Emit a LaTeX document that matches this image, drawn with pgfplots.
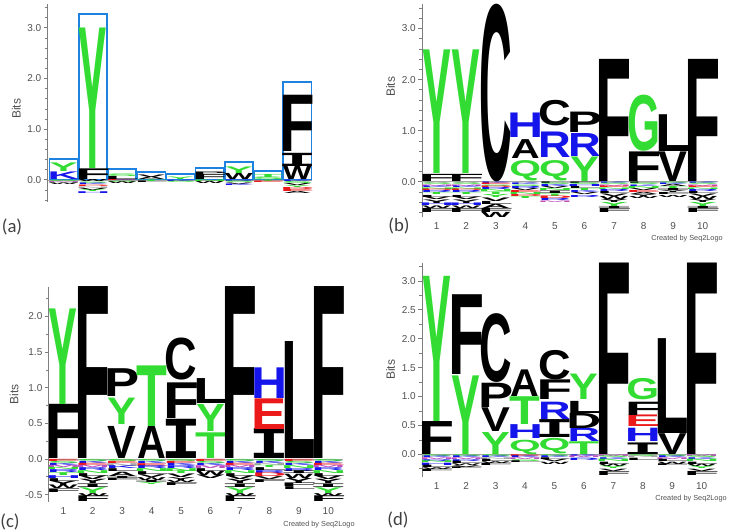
\documentclass[border=0pt]{standalone}
\usepackage{fontspec}
\setmainfont{Liberation Sans}
\newfontfamily\capfont{Carlito}
\newfontfamily\serifI{DejaVu Sans Mono}
\usepackage{graphicx}
\usepackage{pgfplots}
\usepackage{pgfplotstable}
\pgfplotsset{compat=1.18}

\definecolor{logoG}{RGB}{50,220,50}
\definecolor{logoB}{RGB}{20,20,235}
\definecolor{logoR}{RGB}{235,25,25}
\definecolor{logoK}{RGB}{0,0,0}
\definecolor{logoM}{RGB}{190,80,190}
\definecolor{logoS}{RGB}{165,165,165}
\definecolor{boxblue}{RGB}{30,130,225}
\definecolor{axgray}{RGB}{125,125,125}
\definecolor{txtgray}{RGB}{80,80,80}

% stretch factors (advance width / ink width)
\def\lfA{1.0}\def\lfC{1.13}\def\lfD{1.2}\def\lfE{1.22}\def\lfF{1.25}\def\lfG{1.14}
\def\lfH{1.25}\def\lfI{1.45}\def\lfK{1.12}\def\lfL{1.2}\def\lfM{1.2}\def\lfN{1.25}
\def\lfP{1.22}\def\lfQ{1.1}\def\lfR{1.13}\def\lfS{1.13}\def\lfT{1.07}\def\lfV{1.0}
\def\lfW{1.0}\def\lfY{1.0}
\def\lgI{I}
\newdimen\logoH \newdimen\logoW
\def\logoparse#1#2\relax{\def\logoC{#1}\def\logoL{#2}}
\newcommand\logodraw[2]{% #1 pt per bit, #2 nominal width (pt)
  \edef\logoM{\pgfplotspointmeta}%
  \expandafter\logoparse\logoM\relax
  \ifx\logoL\lgI\def\logoT{{\serifI\bfseries I}}\else\def\logoT{{\bfseries\logoL}}\fi
  \ifcsname lf\logoL\endcsname\edef\logoF{\csname lf\logoL\endcsname}\else\def\logoF{1}\fi
  \pgfmathsetlength\logoH{\lh*#1pt}%
  \pgfmathsetlength\logoW{\logoF*#2pt}%
  \node[anchor=south, inner sep=0pt, outer sep=0pt] at (0pt,0pt)
    {\color{logo\logoC}\resizebox*{\logoW}{\logoH}{\logoT}};%
}

\pgfplotsset{
  logo/.style 2 args={%
    scatter, only marks, mark=*, mark size=0pt,
    mark options={draw=none, fill=none},
    point meta=explicit symbolic,
    visualization depends on={\thisrow{h}\as\lh},
    scatter/@pre marker code/.code={\logodraw{#2}{#1}},
    scatter/@post marker code/.code={},
  },
  logoaxis/.style={
    scale only axis, anchor=south west, clip=false,
    axis y line*=left, axis x line*=bottom,
    x axis line style={draw=none},
    y axis line style={axgray, line width=0.6pt, -},
    xtick style={draw=none},
    ytick style={axgray, line width=0.6pt},
    minor y tick style={axgray, line width=0.5pt},
    tick align=outside, major tick length=3pt, minor tick length=2pt,
    tick label style={font=\fontsize{7.5}{9}\selectfont, text=txtgray, /pgf/number format/assume math mode=true},
    yticklabel style={inner sep=1.5pt},
    y tick label style={/pgf/number format/fixed, /pgf/number format/fixed zerofill, /pgf/number format/precision=1},
    xticklabel style={inner sep=1pt},
    ylabel={Bits},
    ylabel style={font=\fontsize{9}{10}\selectfont, text=txtgray},
  },
}

% data: x, bottom, height (bits), colour class + letter
\pgfplotstableread{
x y h cl
1 0.00 0.15 BK
1 0.16 0.17 GY
2 0.00 0.21 KF
2 0.23 2.77 GY
3 0.00 0.06 KL
3 0.07 0.05 GS
4 0.00 0.05 KA
4 0.05 0.05 KV
5 0.00 0.05 GY
6 0.00 0.10 KF
6 0.10 0.05 KP
7 0.00 0.12 KW
7 0.12 0.13 GY
8 0.00 0.05 GS
8 0.05 0.06 GT
9 0.00 0.26 KW
9 0.27 0.26 KI
9 0.56 1.11 KF
1 -0.025 0.025 GS
1 -0.045 0.02 MM
1 -0.07 0.025 SN
1 -0.10 0.03 KW
2 -0.04 0.04 KW
2 -0.07 0.03 GS
2 -0.10 0.03 BK
2 -0.13 0.03 RD
2 -0.16 0.03 SN
2 -0.20 0.04 KV
2 -0.235 0.035 GY
2 -0.27 0.035 BH
3 -0.02 0.02 RE
3 -0.045 0.025 GS
3 -0.08 0.035 KW
4 -0.03 0.03 GT
4 -0.06 0.03 KL
5 -0.025 0.025 BK
5 -0.05 0.025 GS
6 -0.03 0.03 GN
6 -0.07 0.04 KW
7 -0.03 0.03 BR
7 -0.06 0.03 GS
7 -0.09 0.03 KV
7 -0.12 0.03 BK
8 -0.03 0.03 GT
8 -0.06 0.03 RE
9 -0.03 0.03 BK
9 -0.07 0.04 GS
9 -0.11 0.04 KV
9 -0.15 0.04 GY
9 -0.19 0.04 RD
9 -0.23 0.04 RE
9 -0.27 0.04 KA
}\tabA

\pgfplotstableread{
x y h cl
1 0.00 0.14 KF
1 0.16 2.42 GY
2 0.00 0.14 KF
2 0.16 2.42 GY
3 0.00 3.48 KC
4 0.02 0.40 GQ
4 0.45 0.37 KA
4 0.86 0.48 BH
5 0.02 0.40 GQ
5 0.48 0.50 BR
5 1.10 0.50 KC
6 0.00 0.48 GY
6 0.50 0.45 BR
6 0.97 0.40 KP
7 0.00 2.39 KF
8 0.00 0.58 KF
8 0.60 1.10 GG
9 0.00 0.58 KV
9 0.60 0.72 KL
10 0.00 2.39 KF
1 -0.03 0.03 SA
1 -0.06 0.03 GS
1 -0.09 0.03 MM
1 -0.12 0.03 BK
1 -0.15 0.03 GN
1 -0.18 0.03 RD
1 -0.22 0.04 BR
1 -0.26 0.04 GT
1 -0.30 0.04 KL
1 -0.35 0.05 KV
1 -0.42 0.07 KY
1 -0.47 0.05 BH
1 -0.52 0.05 KW
1 -0.60 0.08 KF
2 -0.03 0.03 SA
2 -0.06 0.03 GS
2 -0.09 0.03 MM
2 -0.12 0.03 BK
2 -0.15 0.03 GN
2 -0.18 0.03 RD
2 -0.22 0.04 BR
2 -0.26 0.04 GT
2 -0.30 0.04 KL
2 -0.35 0.05 KV
2 -0.42 0.07 KY
2 -0.47 0.05 BH
2 -0.52 0.05 KW
2 -0.60 0.08 KF
3 -0.03 0.03 BK
3 -0.06 0.03 RE
3 -0.09 0.03 GS
3 -0.12 0.03 RD
3 -0.16 0.04 BR
3 -0.20 0.04 GN
3 -0.25 0.05 GT
3 -0.31 0.06 GY
3 -0.38 0.07 KV
3 -0.44 0.06 KL
3 -0.52 0.08 KA
3 -0.60 0.08 KF
3 -0.70 0.10 KW
4 -0.03 0.03 SA
4 -0.06 0.03 BK
4 -0.09 0.03 GS
4 -0.13 0.04 BR
4 -0.17 0.04 KV
4 -0.21 0.04 RE
4 -0.25 0.04 GN
4 -0.29 0.04 RD
4 -0.33 0.04 GT
5 -0.03 0.03 KL
5 -0.06 0.03 GS
5 -0.10 0.04 BK
5 -0.14 0.04 KV
5 -0.18 0.04 GN
5 -0.23 0.05 KI
5 -0.28 0.05 GT
5 -0.33 0.05 RD
5 -0.37 0.04 BR
5 -0.40 0.03 MM
6 -0.03 0.03 KF
6 -0.06 0.03 GS
6 -0.10 0.04 BH
6 -0.14 0.04 KL
6 -0.18 0.04 GT
6 -0.22 0.04 BK
6 -0.26 0.04 KV
6 -0.30 0.04 BR
7 -0.03 0.03 BK
7 -0.06 0.03 GS
7 -0.09 0.03 MM
7 -0.12 0.03 RE
7 -0.15 0.03 GN
7 -0.19 0.04 BR
7 -0.23 0.04 KL
7 -0.28 0.05 KV
7 -0.34 0.06 KW
7 -0.40 0.06 KY
7 -0.48 0.08 GY
7 -0.52 0.04 KI
7 -0.60 0.08 KF
8 -0.03 0.03 KL
8 -0.06 0.03 GS
8 -0.09 0.03 BK
8 -0.13 0.04 GN
8 -0.17 0.04 KV
8 -0.21 0.04 RE
8 -0.25 0.04 KA
8 -0.29 0.04 KY
8 -0.33 0.04 KW
9 -0.03 0.03 GS
9 -0.06 0.03 BK
9 -0.10 0.04 KA
9 -0.14 0.04 GT
9 -0.18 0.04 KI
9 -0.22 0.04 KY
9 -0.26 0.04 KF
9 -0.30 0.04 KW
10 -0.03 0.03 BK
10 -0.06 0.03 GS
10 -0.09 0.03 MM
10 -0.12 0.03 RE
10 -0.15 0.03 GN
10 -0.19 0.04 BR
10 -0.23 0.04 KL
10 -0.28 0.05 KV
10 -0.34 0.06 KW
10 -0.40 0.06 KY
10 -0.48 0.08 GY
10 -0.52 0.04 KI
10 -0.60 0.08 KF
}\tabB

\pgfplotstableread{
x y h cl
1 0.00 0.76 KF
1 0.76 1.34 GY
2 0.00 2.41 KF
3 0.00 0.45 KV
3 0.48 0.37 GY
3 0.87 0.39 KP
4 0.00 0.45 KA
4 0.45 0.85 GT
5 0.00 0.55 KI
5 0.57 0.50 KF
5 1.10 0.59 KC
6 0.00 0.36 GT
6 0.38 0.38 GY
6 0.78 0.35 KL
7 0.00 2.41 KF
8 0.00 0.42 KI
8 0.42 0.43 RE
8 0.85 0.43 BH
9 0.00 1.64 KL
10 0.00 2.41 KF
1 -0.03 0.03 RE
1 -0.06 0.03 GS
1 -0.09 0.03 BK
1 -0.12 0.03 MM
1 -0.15 0.03 GN
1 -0.19 0.04 BR
1 -0.23 0.04 GT
1 -0.27 0.04 BH
1 -0.31 0.04 KL
1 -0.37 0.06 KY
1 -0.42 0.05 KW
1 -0.47 0.05 KF
2 -0.03 0.03 GS
2 -0.06 0.03 BK
2 -0.09 0.03 RE
2 -0.12 0.03 MM
2 -0.16 0.04 BR
2 -0.20 0.04 GN
2 -0.24 0.04 KL
2 -0.29 0.05 KV
2 -0.35 0.06 KY
2 -0.40 0.05 KI
2 -0.48 0.08 GY
2 -0.52 0.04 KW
2 -0.60 0.08 KF
3 -0.03 0.03 GS
3 -0.06 0.03 RE
3 -0.10 0.04 SN
3 -0.14 0.04 BK
3 -0.18 0.04 KL
3 -0.24 0.06 KA
3 -0.27 0.03 KI
3 -0.30 0.03 KF
4 -0.03 0.03 GS
4 -0.06 0.03 BK
4 -0.10 0.04 RE
4 -0.14 0.04 BR
4 -0.18 0.04 GN
4 -0.22 0.04 KL
4 -0.26 0.04 KV
4 -0.30 0.04 KW
4 -0.33 0.03 KI
4 -0.36 0.03 GY
5 -0.03 0.03 GS
5 -0.06 0.03 RE
5 -0.09 0.03 BK
5 -0.13 0.04 BR
5 -0.17 0.04 GN
5 -0.21 0.04 GT
5 -0.26 0.05 KV
5 -0.30 0.04 KY
5 -0.33 0.03 KW
5 -0.37 0.04 KF
6 -0.03 0.03 RE
6 -0.06 0.03 GS
6 -0.09 0.03 BK
6 -0.13 0.04 MM
6 -0.17 0.04 KL
6 -0.23 0.06 KW
6 -0.28 0.05 KV
7 -0.03 0.03 GS
7 -0.06 0.03 BK
7 -0.09 0.03 RE
7 -0.12 0.03 MM
7 -0.16 0.04 BR
7 -0.20 0.04 GN
7 -0.24 0.04 KL
7 -0.29 0.05 KV
7 -0.35 0.06 KY
7 -0.40 0.05 KI
7 -0.48 0.08 GY
7 -0.52 0.04 KW
7 -0.60 0.08 KF
8 -0.03 0.03 GS
8 -0.06 0.03 BK
8 -0.09 0.03 SN
8 -0.12 0.03 GT
8 -0.16 0.04 KL
8 -0.20 0.04 BR
8 -0.25 0.05 RD
8 -0.29 0.04 KV
8 -0.33 0.04 KF
9 -0.03 0.03 RE
9 -0.06 0.03 GS
9 -0.09 0.03 BK
9 -0.13 0.04 GN
9 -0.17 0.04 BR
9 -0.21 0.04 KI
9 -0.27 0.06 KW
9 -0.34 0.07 KY
9 -0.39 0.05 KF
9 -0.43 0.04 KL
10 -0.03 0.03 GS
10 -0.06 0.03 BK
10 -0.09 0.03 RE
10 -0.12 0.03 MM
10 -0.16 0.04 BR
10 -0.20 0.04 GN
10 -0.24 0.04 KL
10 -0.29 0.05 KV
10 -0.35 0.06 KY
10 -0.40 0.05 KI
10 -0.48 0.08 GY
10 -0.52 0.04 KW
10 -0.60 0.08 KF
}\tabC

\pgfplotstableread{
x y h cl
1 0.00 0.57 KF
1 0.57 2.51 GY
2 0.00 1.36 GY
2 1.38 1.38 KF
3 0.00 0.38 GY
3 0.40 0.41 KV
3 0.81 0.42 KP
3 1.25 1.19 KC
4 0.00 0.25 GQ
4 0.27 0.24 BH
4 0.52 0.48 GT
4 1.00 0.46 KA
5 0.00 0.27 GQ
5 0.29 0.31 KI
5 0.61 0.30 BR
5 0.95 0.34 KF
5 1.29 0.51 KC
6 0.00 0.22 GT
6 0.22 0.23 BR
6 0.45 0.26 KD
6 0.71 0.21 KL
6 0.94 0.44 GY
7 0.00 3.31 KF
8 0.00 0.20 KI
8 0.22 0.23 BH
8 0.48 0.20 RE
8 0.68 0.23 KF
8 0.94 0.37 GG
9 0.00 0.36 KV
9 0.36 1.64 KL
10 0.00 3.31 KF
1 -0.03 0.03 GS
1 -0.06 0.03 BK
1 -0.09 0.03 MM
1 -0.12 0.03 BR
1 -0.15 0.03 GN
1 -0.19 0.04 BH
1 -0.23 0.04 KL
1 -0.26 0.03 KW
1 -0.30 0.04 KF
2 -0.03 0.03 GS
2 -0.06 0.03 BK
2 -0.09 0.03 MM
2 -0.12 0.03 BR
2 -0.16 0.04 KL
2 -0.19 0.03 KW
2 -0.22 0.03 KV
2 -0.25 0.03 KF
3 -0.03 0.03 GS
3 -0.06 0.03 BK
3 -0.09 0.03 SN
3 -0.13 0.04 KL
3 -0.16 0.03 KW
3 -0.20 0.04 KF
4 -0.03 0.03 RE
4 -0.06 0.03 BK
4 -0.09 0.03 MM
4 -0.12 0.03 GS
4 -0.15 0.03 KL
5 -0.03 0.03 GS
5 -0.06 0.03 BK
5 -0.09 0.03 KL
5 -0.13 0.04 KV
5 -0.17 0.04 KW
6 -0.03 0.03 BK
6 -0.06 0.03 MM
6 -0.10 0.04 BR
7 -0.03 0.03 MM
7 -0.06 0.03 GS
7 -0.09 0.03 BK
7 -0.13 0.04 GN
7 -0.17 0.04 KL
7 -0.21 0.04 KW
7 -0.25 0.04 GY
7 -0.29 0.04 KV
7 -0.36 0.07 KF
8 -0.03 0.03 GS
8 -0.06 0.03 SN
8 -0.10 0.04 KL
9 -0.03 0.03 GS
9 -0.06 0.03 BK
9 -0.09 0.03 MM
9 -0.13 0.04 KL
9 -0.17 0.04 KW
9 -0.20 0.03 KF
10 -0.03 0.03 MM
10 -0.06 0.03 GS
10 -0.09 0.03 BK
10 -0.13 0.04 GN
10 -0.17 0.04 KL
10 -0.21 0.04 KW
10 -0.25 0.04 GY
10 -0.29 0.04 KV
10 -0.36 0.07 KF
}\tabD

\begin{document}
\begin{tikzpicture}
\path[use as bounding box] (0,0) rectangle (546.75pt,399pt);

% ---------------- (a) ----------------
\begin{axis}[logoaxis,
  at={(35.66pt,247.73pt)}, width=198.2pt, height=148.28pt,
  xmin=0.45, xmax=9.5, ymin=-0.43, ymax=3.47,
  xtick=\empty,
  ytick={0,1,2,3},
  minor ytick={-0.4,-0.2,0.2,0.4,0.6,0.8,1.2,1.4,1.6,1.8,2.2,2.4,2.6,2.8,3.2,3.4},
  ylabel style={at={(ticklabel cs:0.47)}},
]
\addplot[ybar, bar width=0.97, draw=boxblue, line width=1.3pt, fill=none]
  coordinates {(1,0.41) (2,3.27) (3,0.22) (4,0.15) (5,0.12) (6,0.23) (7,0.36) (8,0.18) (9,1.93)};
\addplot[logo={21.3}{38.02}] table[x=x, y=y, meta=cl] {\tabA};
\addplot[logoS, line width=0.5pt] coordinates {(0.45,0) (9.5,0)};
\end{axis}

% ---------------- (b) ----------------
\begin{axis}[logoaxis,
  at={(316.44pt,236.48pt)}, width=221.7pt, height=159.53pt,
  xmin=0.5, xmax=10.5, ymin=-0.685, ymax=3.48,
  xtick={1,...,10},
  ytick={0,1,2,3},
  minor ytick={-0.6,-0.4,-0.2,0.2,0.4,0.6,0.8,1.2,1.4,1.6,1.8,2.2,2.4,2.6,2.8,3.2,3.4},
  ylabel style={at={(ticklabel cs:0.61)}},
]
\addplot[logo={21.7}{38.30}] table[x=x, y=y, meta=cl] {\tabB};
\addplot[logoS, line width=0.5pt] coordinates {(0.5,0) (10.5,0)};
\end{axis}

% ---------------- (c) ----------------
\begin{axis}[logoaxis,
  at={(36.44pt,22.73pt)}, width=220.8pt, height=160.8pt,
  xmin=0.5, xmax=10.5, ymin=-0.599, ymax=2.408,
  xtick={1,...,10},
  ytick={-0.5,0,0.5,1,1.5,2},
  minor ytick={-0.25,0.25,0.75,1.25,1.75,2.25},
  ylabel style={at={(ticklabel cs:0.5)}},
]
\addplot[logo={21.6}{53.48}] table[x=x, y=y, meta=cl] {\tabC};
\addplot[logoS, line width=0.5pt] coordinates {(0.5,0) (10.5,0)};
\end{axis}

% ---------------- (d) ----------------
\begin{axis}[logoaxis,
  at={(316.49pt,41.48pt)}, width=220.8pt, height=160.5pt,
  xmin=0.5, xmax=10.5, ymin=-0.387, ymax=3.315,
  xtick={1,...,10},
  ytick={0,0.5,1,1.5,2,2.5,3},
  minor ytick={-0.25,0.25,0.75,1.25,1.75,2.25,2.75,3.25},
  ylabel style={at={(ticklabel cs:0.5)}},
]
\addplot[logo={21.6}{43.36}] table[x=x, y=y, meta=cl] {\tabD};
\addplot[logoS, line width=0.5pt] coordinates {(0.5,0) (10.5,0)};
\end{axis}

% credits and panel labels
\node[anchor=east, inner sep=0pt, font=\fontsize{5.5}{6}\selectfont, text=txtgray] at (542.25pt,219.75pt) {Created by Seq2Logo};
\node[anchor=west, inner sep=0pt, font=\fontsize{5.5}{6}\selectfont, text=txtgray] at (212.25pt,5.25pt) {Created by Seq2Logo};
\node[anchor=east, inner sep=0pt, font=\fontsize{5.5}{6}\selectfont, text=txtgray] at (545.25pt,24.75pt) {Created by Seq2Logo};
\node[inner sep=0pt, font=\capfont\fontsize{14}{16}\selectfont, text=black!75] at (9pt,228.75pt) {(a)};
\node[inner sep=0pt, font=\capfont\fontsize{14}{16}\selectfont, text=black!75] at (299.25pt,229.5pt) {(b)};
\node[inner sep=0pt, font=\capfont\fontsize{14}{16}\selectfont, text=black!75] at (7.5pt,7.5pt) {(c)};
\node[inner sep=0pt, font=\capfont\fontsize{14}{16}\selectfont, text=black!75] at (298.5pt,9pt) {(d)};
\end{tikzpicture}
\end{document}
